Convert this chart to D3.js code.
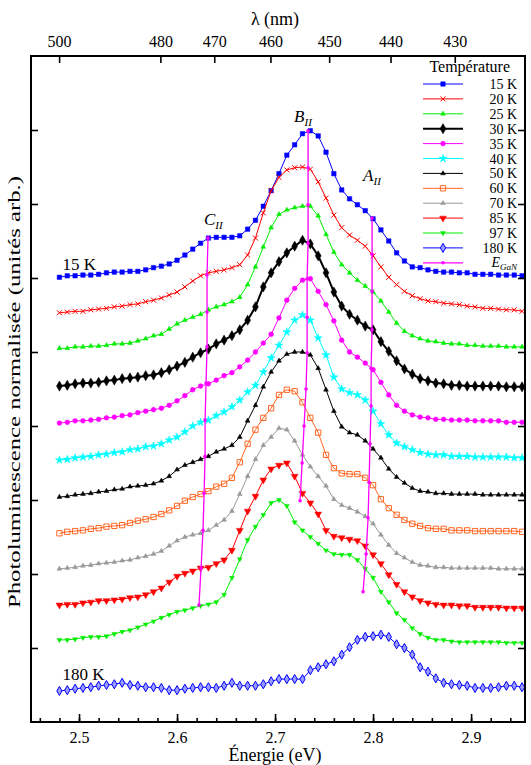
<!DOCTYPE html>
<html>
<head>
<meta charset="utf-8">
<script src="https://cdn.jsdelivr.net/npm/d3@7"></script>
<style>
	body { margin: 0; background: #fff; }
	svg text { font-family: "Liberation Serif", "Times New Roman", serif; fill: #000; }
</style>
</head>
<body>
<svg width="531" height="765"></svg>
<script>
// photon energy grid (eV)
var energies = [2.480, 2.488, 2.496, 2.504, 2.512, 2.520, 2.528, 2.536, 2.544, 2.552,
	2.560, 2.568, 2.576, 2.584, 2.592, 2.600, 2.608, 2.616, 2.624, 2.632,
	2.640, 2.648, 2.656, 2.664, 2.672, 2.680, 2.688, 2.696, 2.704, 2.712,
	2.720, 2.728, 2.736, 2.744, 2.752, 2.760, 2.768, 2.776, 2.784, 2.792,
	2.800, 2.808, 2.816, 2.824, 2.832, 2.840, 2.848, 2.856, 2.864, 2.872,
	2.880, 2.888, 2.896, 2.904, 2.912, 2.920, 2.928, 2.936, 2.944, 2.952];

// normalised PL, already shifted for each temperature
var pl15 = [6.01,6.03,6.03,6.04,6.04,6.05,6.07,6.08,6.08,6.09, 6.09,6.11,6.14,6.16,6.19,6.24,6.31,6.39,6.47,6.54,
	6.55,6.55,6.55,6.57,6.66,6.78,6.97,7.18,7.41,7.66, 7.80,7.95,7.99,7.92,7.70,7.41,7.19,7.07,6.99,6.91,
	6.80,6.65,6.50,6.34,6.23,6.15,6.14,6.11,6.09,6.08, 6.08,6.07,6.07,6.05,6.05,6.05,6.04,6.04,6.04,6.03];
var pl20 = [5.53,5.54,5.55,5.55,5.57,5.58,5.59,5.61,5.62,5.64, 5.65,5.68,5.70,5.73,5.77,5.81,5.88,5.96,6.03,6.07,
	6.09,6.11,6.14,6.18,6.31,6.54,6.88,7.18,7.36,7.46, 7.49,7.50,7.47,7.30,7.08,6.85,6.68,6.58,6.51,6.43,
	6.30,6.15,6.01,5.91,5.82,5.76,5.72,5.69,5.68,5.66, 5.65,5.64,5.62,5.61,5.59,5.59,5.58,5.57,5.57,5.55];
var pl25 = [5.05,5.05,5.07,5.07,5.08,5.08,5.09,5.11,5.11,5.12, 5.15,5.18,5.22,5.24,5.31,5.38,5.43,5.47,5.51,5.57,
	5.61,5.64,5.68,5.74,5.91,6.15,6.42,6.68,6.86,6.92, 6.95,6.97,6.97,6.84,6.59,6.35,6.18,6.07,5.97,5.89,
	5.81,5.69,5.54,5.39,5.28,5.22,5.18,5.15,5.14,5.12, 5.11,5.11,5.09,5.09,5.08,5.08,5.08,5.07,5.07,5.07];
var pl30 = [4.54,4.55,4.57,4.58,4.58,4.59,4.61,4.62,4.64,4.65, 4.66,4.68,4.69,4.72,4.76,4.81,4.86,4.93,4.99,5.04,
	5.11,5.16,5.22,5.30,5.43,5.61,5.88,6.07,6.22,6.34, 6.43,6.51,6.46,6.30,6.07,5.81,5.62,5.51,5.43,5.35,
	5.30,5.14,5.01,4.88,4.77,4.70,4.64,4.61,4.58,4.57, 4.55,4.55,4.54,4.54,4.54,4.54,4.54,4.53,4.53,4.53];
var pl35 = [4.04,4.05,4.07,4.07,4.08,4.09,4.11,4.12,4.14,4.15, 4.18,4.20,4.22,4.24,4.28,4.34,4.41,4.49,4.54,4.57,
	4.62,4.68,4.72,4.80,4.89,5.00,5.12,5.24,5.46,5.70, 5.86,5.97,5.99,5.82,5.64,5.42,5.16,5.00,4.93,4.85,
	4.76,4.59,4.42,4.28,4.20,4.15,4.12,4.11,4.09,4.09, 4.08,4.08,4.08,4.07,4.07,4.07,4.07,4.05,4.05,4.05];
var pl40 = [3.54,3.55,3.57,3.58,3.59,3.61,3.62,3.64,3.65,3.68, 3.69,3.72,3.73,3.76,3.81,3.85,3.92,4.00,4.05,4.08,
	4.14,4.19,4.26,4.35,4.46,4.55,4.73,4.92,5.09,5.27, 5.43,5.50,5.43,5.19,4.96,4.66,4.50,4.45,4.42,4.35,
	4.20,4.03,3.88,3.77,3.72,3.68,3.64,3.62,3.61,3.61, 3.59,3.59,3.59,3.58,3.58,3.58,3.58,3.58,3.57,3.57];
var pl50 = [3.04,3.05,3.07,3.08,3.09,3.11,3.12,3.14,3.15,3.18, 3.19,3.20,3.22,3.26,3.32,3.41,3.47,3.51,3.55,3.59,
	3.65,3.69,3.74,3.85,4.07,4.28,4.53,4.73,4.88,4.97, 5.00,5.00,4.96,4.78,4.49,4.20,3.99,3.91,3.88,3.80,
	3.69,3.57,3.42,3.31,3.23,3.16,3.12,3.11,3.09,3.09, 3.08,3.08,3.08,3.08,3.07,3.07,3.07,3.07,3.07,3.07];
var pl60 = [2.55,2.57,2.58,2.59,2.61,2.62,2.64,2.65,2.66,2.69, 2.72,2.74,2.77,2.81,2.86,2.92,2.99,3.04,3.08,3.12,
	3.18,3.22,3.30,3.51,3.76,3.95,4.11,4.24,4.42,4.49, 4.47,4.32,4.11,3.91,3.61,3.43,3.36,3.35,3.35,3.30,
	3.20,3.01,2.89,2.80,2.73,2.68,2.65,2.62,2.61,2.61, 2.59,2.59,2.59,2.58,2.58,2.58,2.58,2.58,2.58,2.57];
var pl70 = [2.07,2.08,2.09,2.11,2.12,2.14,2.15,2.16,2.18,2.19, 2.22,2.24,2.27,2.31,2.38,2.45,2.50,2.53,2.55,2.59,
	2.66,2.73,2.85,3.08,3.32,3.55,3.74,3.85,3.97,3.95, 3.80,3.61,3.45,3.32,3.19,3.01,2.93,2.89,2.84,2.78,
	2.68,2.53,2.39,2.28,2.22,2.16,2.12,2.11,2.09,2.09, 2.08,2.08,2.08,2.08,2.08,2.08,2.07,2.07,2.07,2.07];
var pl85 = [1.58,1.59,1.59,1.61,1.62,1.64,1.64,1.65,1.66,1.68, 1.69,1.72,1.76,1.81,1.89,1.97,2.01,2.04,2.08,2.09,
	2.14,2.19,2.32,2.59,2.85,3.05,3.27,3.42,3.47,3.50, 3.32,3.09,2.96,2.81,2.59,2.51,2.49,2.47,2.45,2.38,
	2.26,2.14,1.99,1.86,1.76,1.69,1.64,1.61,1.59,1.58, 1.58,1.57,1.57,1.55,1.55,1.55,1.55,1.54,1.54,1.54];
var pl97 = [1.11,1.11,1.12,1.14,1.15,1.15,1.16,1.19,1.22,1.24, 1.28,1.32,1.36,1.41,1.45,1.49,1.51,1.54,1.57,1.59,
	1.62,1.72,1.95,2.20,2.46,2.64,2.80,2.96,3.00,2.92, 2.70,2.59,2.50,2.41,2.32,2.27,2.26,2.26,2.19,2.07,
	1.95,1.76,1.62,1.47,1.38,1.27,1.19,1.14,1.11,1.11, 1.09,1.08,1.08,1.08,1.08,1.08,1.08,1.07,1.07,1.07];
var pl180 = [0.42,0.43,0.45,0.46,0.47,0.49,0.50,0.51,0.53,0.50, 0.49,0.47,0.47,0.46,0.43,0.43,0.45,0.46,0.47,0.47,
	0.46,0.49,0.53,0.49,0.49,0.49,0.51,0.55,0.58,0.58, 0.58,0.58,0.70,0.74,0.78,0.82,0.91,1.01,1.11,1.15,
	1.16,1.18,1.15,1.05,1.00,0.91,0.74,0.68,0.59,0.53, 0.51,0.50,0.49,0.46,0.46,0.46,0.47,0.49,0.49,0.47];

var temperatures = ["15 K", "20 K", "25 K", "30 K", "35 K", "40 K", "50 K", "60 K", "70 K", "85 K", "97 K", "180 K"];

// E_GaN transition positions, 15 K .. 97 K
var cEnergy = [2.6316, 2.6306, 2.6306, 2.6306, 2.6296, 2.6286, 2.6286, 2.6276, 2.6265, 2.6245, 2.6224];
var cLevel = [6.54, 6.04, 5.54, 5.07, 4.58, 4.08, 3.59, 3.09, 2.59, 2.08, 1.58];
var bEnergy = [2.7337, 2.7337, 2.7337, 2.7337, 2.7327, 2.7327, 2.7327, 2.7316, 2.7296, 2.7276, 2.7255];
var bLevel = [7.99, 7.49, 6.99, 6.47, 5.99, 5.47, 4.99, 4.50, 4.00, 3.50, 2.99];
var aEnergy = [2.7990, 2.7990, 2.7990, 2.7990, 2.7980, 2.7980, 2.7969, 2.7959, 2.7949, 2.7929, 2.7898];
var aLevel = [6.81, 6.32, 5.82, 5.30, 4.78, 4.27, 3.76, 3.24, 2.76, 2.27, 1.76];

var energyTicks = [2.5, 2.6, 2.7, 2.8, 2.9];
var wavelengthTicks = [500, 480, 470, 460, 450, 440, 430];

var plData = [pl15, pl20, pl25, pl30, pl35, pl40, pl50, pl60, pl70, pl85, pl97, pl180];

// look of each curve
var styles = [
	{ color: "#0000ff", width: 1, type: d3.symbolSquare, size: 20, fill: true },
	{ color: "#ff0000", width: 1, type: d3.symbolTimes, size: 18, fill: false },
	{ color: "#00ee00", width: 1, type: d3.symbolTriangle, size: 10, fill: true },
	{ color: "#000000", width: 2, type: d3.symbolDiamond, size: 30, fill: true },
	{ color: "#ff00ff", width: 1, type: d3.symbolCircle, size: 18, fill: true },
	{ color: "#00ffff", width: 1, type: d3.symbolStar, size: 20, fill: true },
	{ color: "#000000", width: 1, type: d3.symbolTriangle, size: 10, fill: true },
	{ color: "#ff6622", width: 1, type: d3.symbolSquare, size: 28, fill: false },
	{ color: "#999999", width: 1, type: d3.symbolTriangle, size: 10, fill: true },
	{ color: "#ff0000", width: 1, type: d3.symbolTriangle, size: 20, fill: true, rotate: 180 },
	{ color: "#00ee00", width: 1, type: d3.symbolTriangle, size: 10, fill: true, rotate: 180 },
	{ color: "#0000ff", width: 1, type: d3.symbolDiamond, size: 24, fill: "#9a9aff" }
];
var magenta = "#ff00ff";
var serif = '"Liberation Serif", "DejaVu Serif", serif';

var svg = d3.select("svg");

var x = d3.scaleLinear().domain([2.451, 2.955]).range([31, 525]);
var y = d3.scaleLinear().domain([0, 9]).range([722, 56]);

var line = d3
	.line()
	.x((d) => x(d[0]))
	.y((d) => y(d[1]));

function drawMarkers(sel, st) {
	sel
		.attr("d", d3.symbol().type(st.type).size(st.size))
		.attr("fill", st.fill === true ? st.color : st.fill === false ? "none" : st.fill)
		.attr("stroke", st.color)
		.attr("stroke-width", st.fill === true ? 0.5 : 1);
}

// curves
plData.forEach(function(values, k) {
	var st = styles[k];
	var pts = energies.map((e, i) => [e, values[i]]);
	var g = svg.append("g").attr("class", "curve");
	g.append("path")
		.datum(pts)
		.attr("d", line)
		.attr("fill", "none")
		.attr("stroke", st.color)
		.attr("stroke-width", st.width);
	g.selectAll(".mark")
		.data(pts)
		.enter()
		.append("path")
		.attr("class", "mark")
		.attr("transform", (d) => "translate(" + x(d[0]) + "," + y(d[1]) + ")" + (st.rotate ? " rotate(180)" : ""))
		.call(drawMarkers, st);
});

// E_GaN guide lines
[[cEnergy, cLevel], [bEnergy, bLevel], [aEnergy, aLevel]].forEach(function(p) {
	var pts = p[0].map((e, i) => [e, p[1][i]]);
	svg.append("path")
		.datum(pts)
		.attr("d", line)
		.attr("fill", "none")
		.attr("stroke", magenta)
		.attr("stroke-width", 1.3);
	svg.selectAll(null)
		.data(pts)
		.enter()
		.append("circle")
		.attr("cx", (d) => x(d[0]))
		.attr("cy", (d) => y(d[1]))
		.attr("r", 1.8)
		.attr("fill", magenta);
});

// annotations
function subLabel(px, py, main, sub) {
	var t = svg.append("text").attr("x", px).attr("y", py).attr("font-size", 17).attr("font-style", "italic");
	t.append("tspan").text(main);
	t.append("tspan").attr("font-size", 11).attr("dy", 4).text(sub);
	return t;
}
subLabel(x(cEnergy[0]) - 4, y(cLevel[0]) - 13, "C", "II");
subLabel(x(bEnergy[0]) - 14, y(bLevel[0]) - 9, "B", "II");
subLabel(x(aEnergy[0]) - 9, y(aLevel[0]) - 37, "A", "II");

svg.append("text")
	.attr("x", x(energies[0]) + 3)
	.attr("y", y(pl15[0]) - 7)
	.attr("font-size", 17)
	.text(temperatures[0]);
svg.append("text")
	.attr("x", x(energies[0]) + 3)
	.attr("y", y(pl180[0]) - 11)
	.attr("font-size", 17)
	.text(temperatures[11]);

// axes
var axisBottomMajor = svg.append("g")
	.attr("transform", "translate(0,722)")
	.call(d3.axisBottom(x).tickValues(energyTicks).tickSize(-8).tickPadding(10).tickFormat(d3.format(".1f")));
var axisBottomMinor = svg.append("g")
	.attr("transform", "translate(0,722)")
	.call(d3.axisBottom(x).tickValues(d3.range(2.46, 2.95, 0.02)).tickSize(-4).tickFormat(""));
var axisTopWave = svg.append("g")
	.attr("transform", "translate(0,56)")
	.call(d3.axisTop(x)
		.tickValues(wavelengthTicks.map((l) => 1239.84 / l))
		.tickSize(-7)
		.tickPadding(9)
		.tickFormat((d, i) => wavelengthTicks[i]));
var yTicks = [1, 2, 3, 4, 5, 6, 7, 8];
var axisLeftPL = svg.append("g")
	.attr("transform", "translate(31,0)")
	.call(d3.axisLeft(y).tickValues(yTicks).tickSize(-7).tickFormat(""));
var axisRightPL = svg.append("g")
	.attr("transform", "translate(525,0)")
	.call(d3.axisRight(y).tickValues(yTicks).tickSize(-7).tickFormat(""));

[axisBottomMajor, axisBottomMinor, axisTopWave, axisLeftPL, axisRightPL].forEach(function(a) {
	a.select(".domain").remove();
	a.selectAll("line").attr("stroke", "#000").attr("stroke-width", 1.6);
	a.selectAll("text")
		.attr("font-family", serif)
		.attr("font-size", 16)
		.attr("fill", "#000");
	a.attr("font-family", null).attr("font-size", null);
});

svg.append("rect")
	.attr("x", 31)
	.attr("y", 56)
	.attr("width", 494)
	.attr("height", 666)
	.attr("fill", "none")
	.attr("stroke", "#000")
	.attr("stroke-width", 2);

// axis titles
svg.append("text")
	.attr("x", 275)
	.attr("y", 761)
	.attr("text-anchor", "middle")
	.attr("font-size", 18)
	.text("Énergie (eV)");
svg.append("text")
	.attr("x", 275)
	.attr("y", 25)
	.attr("text-anchor", "middle")
	.attr("font-family", serif)
	.attr("font-size", 18)
	.text("λ (nm)");
svg.append("text")
	.attr("transform", "translate(20,392) rotate(-90)")
	.attr("text-anchor", "middle")
	.attr("font-size", 16)
	.attr("textLength", 432)
	.attr("lengthAdjust", "spacingAndGlyphs")
	.text("Photoluminescence normalisée (unités arb.)");

// legend
var legend = svg.append("g").attr("class", "legend");
legend.append("text")
	.attr("x", 510)
	.attr("y", 72)
	.attr("text-anchor", "end")
	.attr("font-size", 16)
	.text("Température");

var legendRows = temperatures.map((t, i) => ({ label: t, style: styles[i] }));
legendRows.push({ label: null, style: null });

var row = legend.selectAll(".row")
	.data(legendRows)
	.enter()
	.append("g")
	.attr("class", "row")
	.attr("transform", (d, i) => "translate(0," + (84 + i * 14.9) + ")");

row.append("line")
	.attr("x1", 423)
	.attr("x2", 463)
	.attr("stroke", (d) => (d.style ? d.style.color : magenta))
	.attr("stroke-width", (d) => (d.style ? d.style.width : 1.3));

row.each(function(d) {
	var g = d3.select(this);
	if (d.style) {
		g.append("path")
			.attr("transform", "translate(443,0)" + (d.style.rotate ? " rotate(180)" : ""))
			.call(drawMarkers, d.style);
		g.append("text")
			.attr("x", 517)
			.attr("y", 5)
			.attr("text-anchor", "end")
			.attr("font-size", 14)
			.text(d.label);
	} else {
		g.append("circle").attr("cx", 443).attr("r", 1.8).attr("fill", magenta);
		var t = g.append("text")
			.attr("x", 517)
			.attr("y", 4)
			.attr("text-anchor", "end")
			.attr("font-size", 14)
			.attr("font-style", "italic");
		t.append("tspan").text("E");
		t.append("tspan").attr("font-size", 9).attr("dy", 3).text("GaN");
	}
});
</script>
</body>
</html>
